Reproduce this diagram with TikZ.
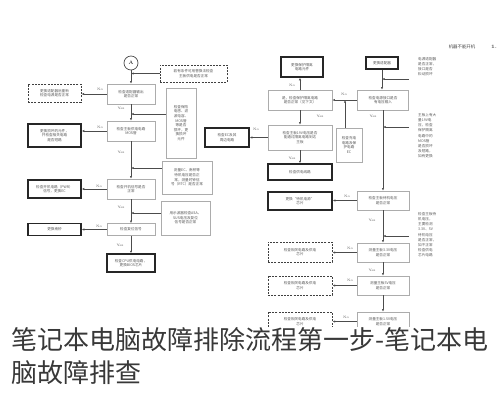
\documentclass[tikz,border=0pt]{standalone}
\usepackage{fontspec}
\newfontfamily\cjk{Noto Sans CJK SC}
\usetikzlibrary{arrows.meta}

\begin{document}
\begin{tikzpicture}[
    x=1pt, y=-1pt,
    box/.style={draw=gray!65, line width=0.6pt, fill=white, inner sep=0.5pt, align=center,
                font=\cjk\fontsize{3.6}{4.6}\selectfont, text=black!65},
    endbox/.style={box, draw=black!85, line width=1.3pt},
    dashbox/.style={box, draw=black!75, line width=0.9pt, dash pattern=on 2pt off 1.2pt},
    note/.style={inner sep=0pt, align=left, font=\cjk\fontsize{3.6}{5.2}\selectfont, text=black!65},
    flow/.style={draw=black!70, line width=0.6pt, -{Latex[length=2.6pt,width=2.2pt]}},
    yn/.style={font=\fontsize{3.4}{4}\selectfont, text=black!70, inner sep=0pt},
    caption/.style={font=\cjk\fontsize{26}{30}\selectfont, text=black!78, inner sep=0pt}
]
\useasboundingbox (0,0) rectangle (501,400);

% left chart
\node[draw=black!70, circle, line width=0.7pt, minimum size=14, inner sep=0pt, font=\fontsize{5}{5}\selectfont] (A) at (131,63) {A};
\node[dashbox, minimum width=67, minimum height=17] (topnote) at (193.5,73.5) {若有条件可用替换法检查\\主板供电是否正常};
\node[box, minimum width=48, minimum height=20] (chk1) at (131,94) {检查适配器输出\\是否正常};
\node[dashbox, minimum width=53, minimum height=18] (out1) at (54.5,93) {更换适配器后重新\\检查电源是否正常};
\node[box, minimum width=30, minimum height=70, text width=27] (side1) at (181,123) {检查保险\\电感、滤\\波电容、\\MOS管\\等是否\\损坏，更\\换损坏\\元件};
\node[box, minimum width=48, minimum height=20] (chk2) at (131,131) {检查主板供电电路\\MOS管};
\node[endbox, minimum width=53, minimum height=23] (out2) at (54.5,135.5) {更换损坏的元件，\\并检查相关电路\\是否短路};
\node[box, minimum width=50, minimum height=33] (side2) at (187,177.5) {测量EC、南桥等\\待机电压是否正\\常，测量时钟信\\号（RTC）是否正常};
\node[box, minimum width=48, minimum height=20] (chk3) at (131,189) {检查开机信号是否\\正常};
\node[endbox, minimum width=53, minimum height=18] (out3) at (54.5,189) {检查开机电路（PWR）\\信号，更换EC};
\node[box, minimum width=49, minimum height=34] (side3) at (185.5,218) {用示波器检查ASA、\\SUS电压及复位\\信号是否正常};
\node[box, minimum width=48, minimum height=12] (chk4) at (131,229.5) {检查复位信号};
\node[endbox, minimum width=53, minimum height=12] (out4) at (54.5,229.5) {更换南桥};
\node[endbox, minimum width=48, minimum height=18] (end1) at (131,263) {检查CPU供电电路，\\更换BIOS芯片};
\node[endbox, minimum width=44, minimum height=19] (outL) at (227,137.5) {检查EC及其\\周边电路};

% left chart labels
\node[yn] (n1) at (100,89) {No};
\node[yn] (y1) at (121,108) {Yes};
\node[yn] (n2) at (100,127) {No};
\node[yn] (y2) at (121,152) {Yes};
\node[yn] (n3) at (99,186) {No};
\node[yn] (y3) at (121,207) {Yes};
\node[yn] (n4) at (99,226) {No};
\node[yn] (y4) at (120,245) {Yes};

% left chart flow
\coordinate (s1in) at ([yshift=9pt]side1.west);
\coordinate (s2in) at ([yshift=9.5pt]side2.west);
\coordinate (s3in) at ([yshift=5pt]side3.west);
\draw[flow] (A) -- (chk1);
\draw[flow] (topnote.west) -- (topnote.west -| A);
\draw[flow] (chk1) -- (chk2);
\draw[flow] (chk2) -- (chk3);
\draw[flow] (chk3) -- (chk4);
\draw[flow] (chk4) -- (end1);
\draw[flow] (s1in) -- (s1in -| A);
\draw[flow] (s2in) -- (s2in -| A);
\draw[flow] (s3in) -- (s3in -| A);
\draw[flow] (chk1.west) -- (chk1.west -| out1.east);
\draw[flow] (chk2.west) -- (chk2.west -| out2.east);
\draw[flow] (chk3.west) -- (chk3.west -| out3.east);
\draw[flow] (chk4.west) -- (chk4.west -| out4.east);

% right chart
\node[font=\cjk\fontsize{4.4}{5}\selectfont, text=black!75, inner sep=0pt] (head) at (462,47) {机器不能开机};
\node[font=\fontsize{5}{5}\selectfont\bfseries, text=black!75, inner sep=0pt] (headno) at (494,47) {1.};
\node[endbox, minimum width=32, minimum height=12] (top1) at (382,63) {更换适配器};
\node[box, minimum width=51, minimum height=20] (R1) at (383,100) {检查电源接口是否\\有电压输入};
\node[box, minimum width=64, minimum height=20] (L1) at (300,100) {是，检查保护隔离电路\\是否正常（见下文）};
\node[endbox, minimum width=42, minimum height=20] (TL) at (302,67) {更换保护隔离\\电路元件};
\node[box, minimum width=64, minimum height=25] (L2) at (300,137.5) {检查主板19V电压是否\\能通过隔离电路到达\\主板};
\node[box, minimum width=26, minimum height=34] (CE) at (349,145) {检查充电\\电路及保\\护电路\\EC};
\node[endbox, minimum width=64, minimum height=16] (L3) at (300,172) {检查供电线路};
\node[box, minimum width=52, minimum height=19] (R2) at (383,200.5) {检查主板待机电压\\是否正常};
\node[endbox, minimum width=64, minimum height=18] (L4) at (300,201) {更换“待机电源”\\芯片};
\node[box, minimum width=52, minimum height=19] (R3) at (383,252.5) {测量主板3.3V电压\\是否正常};
\node[dashbox, minimum width=64, minimum height=20] (L5) at (300,252) {检查相关电路及供电\\芯片};
\node[box, minimum width=52, minimum height=19] (R4) at (383,285.5) {测量主板5V电压\\是否正常};
\node[dashbox, minimum width=64, minimum height=19] (L6) at (300,285.5) {检查相关电路及供电\\芯片};
\node[box, minimum width=52, minimum height=19] (R5) at (383,321.5) {测量主板1.5V电压\\是否正常};
\node[dashbox, minimum width=64, minimum height=19] (L7) at (300,321.5) {检查相关电路及供电\\芯片};

% notes beside the right chart
\node[note, anchor=north west] (T1) at (418,57) {电源适配器\\是否正常，\\接口是否\\松动损坏};
\node[note, anchor=north west] (T2) at (418,113) {主板上有大\\量19V电\\压，检查\\保护隔离\\电路中的\\MOS管\\是否损坏\\及短路，\\如有更换};
\node[note, anchor=north west] (T3) at (418,212) {检查主板待\\机电压，\\主要检测\\3.3V、5V\\待机电压\\是否正常，\\如不正常\\检查供电\\芯片电路};

% right chart labels
\node[yn] (n5) at (344,94) {No};
\node[yn] (n6) at (292,85) {No};
\node[yn] (y5) at (320,116) {Yes};
\node[yn] (y6) at (373,116) {Yes};
\node[yn] (n7) at (256,129) {No};
\node[yn] (y7) at (292,158) {Yes};
\node[yn] (n8) at (347,196) {No};
\node[yn] (y8) at (372,220) {Yes};
\node[yn] (n9) at (350,248) {No};
\node[yn] (y9) at (372,270) {Yes};
\node[yn] (n10) at (350,280) {No};
\node[yn] (n11) at (346,317) {No};

% right chart flow
\coordinate (in1) at (409,79);
\coordinate (in2) at (409,127);
\coordinate (in3) at (409,236);
\coordinate (CEup) at ([xshift=-4pt]CE.north);
\draw[flow] (top1) -- (top1 |- R1.north);
\draw[flow] (in1) -- (in1 -| top1);
\draw[flow] (R1.west) -- (R1.west -| L1.east);
\draw[flow] (CEup) -- (CEup |- R1.west);
\draw[flow] (L1) -- (L1 |- TL.south);
\draw[flow] (L1) -- (L2);
\draw[flow] (L2) -- (L3);
\draw[flow] (L2.west) -- (L2.west -| outL.east);
\draw[flow] (R1) -- (R2);
\draw[flow] (in2) -- (in2 -| R1);
\draw[flow] (R2.west) -- (R2.west -| L4.east);
\draw[flow] (R2) -- (R3);
\draw[flow] (in3) -- (in3 -| R2);
\draw[flow] (R3.west) -- (R3.west -| L5.east);
\draw[flow] (R3) -- (R4);
\draw[flow] (R4.west) -- (R4.west -| L6.east);
\draw[flow] (R4) -- (R5);
\draw[flow] (R5.west) -- (R5.west -| L7.east);

% caption over the bottom
\fill[white] (0,327) rectangle (501,400);
\node[caption, anchor=west] (cap1) at (11,340) {笔记本电脑故障排除流程第一步-笔记本电};
\node[caption, anchor=west] (cap2) at (11,373) {脑故障排查};
\end{tikzpicture}
\end{document}
